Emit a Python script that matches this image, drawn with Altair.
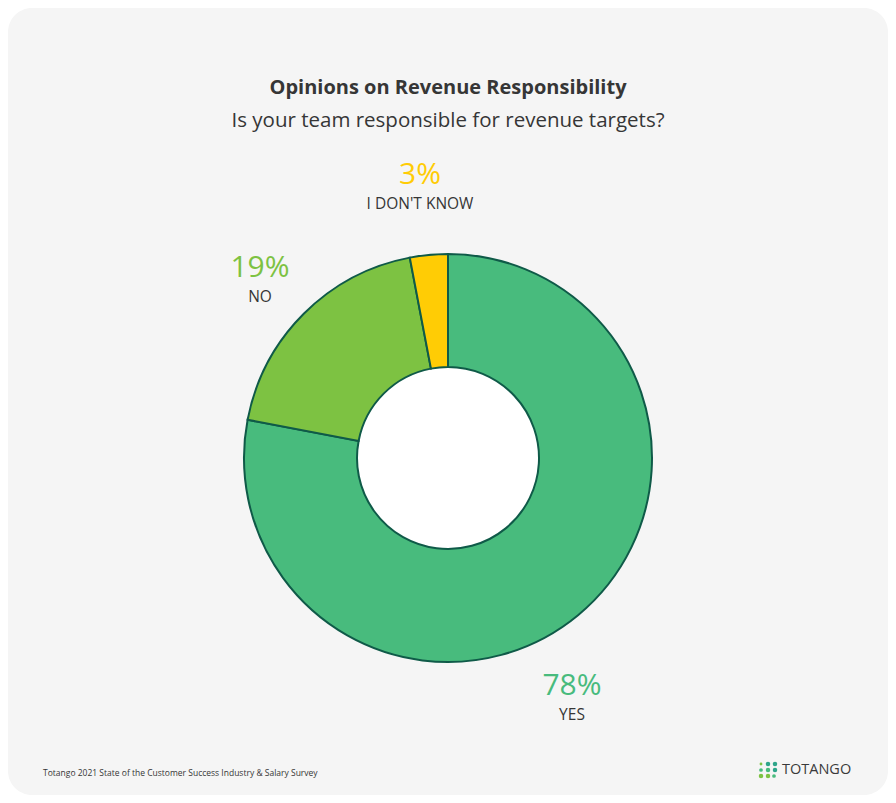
import altair as alt
import pandas as pd

categories = ["YES", "NO", "I DON'T KNOW"]
values = [78, 19, 3]
colors = ["#48bb7d", "#7dc242", "#ffcc05"]
order_idx = [0, 1, 2]

df = pd.DataFrame({"cat": categories, "val": values, "idx": order_idx})
df["pct"] = df["val"].astype(str) + "%"

W, H = 880, 787
CX, CY = 440, 450
FONT = "Open Sans"
DARK = "#363636"
STROKE = "#0f5a48"

base = alt.Chart(df)
one = alt.Chart(pd.DataFrame({"a": [0]}))

card = one.mark_rect(fill="#f5f5f5", cornerRadius=24).encode(
    x=alt.value(0), x2=alt.value(W), y=alt.value(0), y2=alt.value(H)
)

hole = one.mark_circle(size=184 * 184, color="white", opacity=1).encode(
    x=alt.value(CX), y=alt.value(CY)
)

arcs = base.mark_arc(outerRadius=204, innerRadius=91, stroke=STROKE, strokeWidth=2).encode(
    theta=alt.Theta("val:Q", stack=True),
    order=alt.Order("idx:Q"),
    color=alt.Color("cat:N", scale=alt.Scale(domain=categories, range=colors), legend=None),
    x=alt.value(CX), y=alt.value(CY),
)

title = one.mark_text(text="Opinions on Revenue Responsibility", font=FONT, fontSize=20,
                      fontWeight="bold", color=DARK).encode(x=alt.value(CX), y=alt.value(80))
subtitle = one.mark_text(text="Is your team responsible for revenue targets?", font=FONT,
                         fontSize=20.5, color=DARK).encode(x=alt.value(CX), y=alt.value(113))

label_pos = {"YES": (564, 678), "NO": (252, 260), "I DON'T KNOW": (412, 167)}
labels = []
for c, col in zip(categories, colors):
    lx, ly = label_pos[c]
    labels.append(base.transform_filter(alt.datum.cat == c).mark_text(
        font=FONT, fontSize=30, color=col, fontWeight=400).encode(
        text="pct:N", x=alt.value(lx), y=alt.value(ly)))
    labels.append(base.transform_filter(alt.datum.cat == c).mark_text(
        font=FONT, fontSize=15.5, color=DARK, fontWeight=500).encode(
        text="cat:N", x=alt.value(lx), y=alt.value(ly + 29)))

footer = one.mark_text(text="Totango 2021 State of the Customer Success Industry & Salary Survey",
                       font=FONT, fontSize=8.5, color=DARK, align="left").encode(
    x=alt.value(35), y=alt.value(765))

logo_text = one.mark_text(text="TOTANGO", font=FONT, fontSize=14.5, color="#3a3a3a",
                          align="left").encode(x=alt.value(774), y=alt.value(762))

dots_df = pd.DataFrame({
    "dx": [753, 760, 767, 753, 760, 767, 753, 760, 766],
    "dy": [756, 756, 756, 762, 762, 762, 768, 768, 768],
    "s": [8, 20, 20, 14, 20, 20, 20, 20, 14],
    "c": ["#7dc242", "#2fa58a", "#2fa58a", "#48bb7d", "#48bb7d", "#2fa58a", "#7dc242", "#7dc242", "#48bb7d"],
})
dots = alt.Chart(dots_df).mark_circle(opacity=1).encode(
    x=alt.X("dx:Q", scale=None), y=alt.Y("dy:Q", scale=None),
    color=alt.Color("c:N", scale=None), size=alt.Size("s:Q", scale=None)
)

chart = alt.layer(card, hole, arcs, title, subtitle, *labels, footer, logo_text, dots).properties(
    width=W, height=H, padding=0, autosize=alt.AutoSizeParams(type="none"), background="white"
).configure_view(stroke=None)

chart.save("out.html", embed_options={"renderer": "svg", "actions": False})
